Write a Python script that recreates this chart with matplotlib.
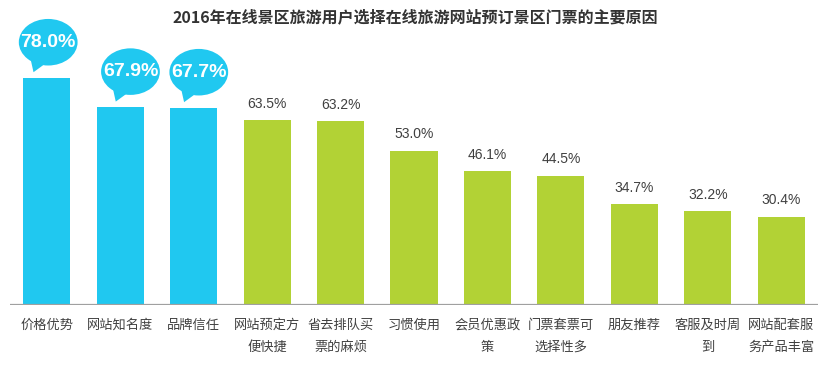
import matplotlib
matplotlib.use("Agg")
import matplotlib.pyplot as plt
from matplotlib.patches import Ellipse, Polygon

plt.rcParams["font.family"] = ["Noto Sans CJK SC", "DejaVu Sans"]

title = "2016年在线景区旅游用户选择在线旅游网站预订景区门票的主要原因"
categories = ["价格优势", "网站知名度", "品牌信任", "网站预定方\n便快捷", "省去排队买\n票的麻烦",
              "习惯使用", "会员优惠政\n策", "门票套票可\n选择性多", "朋友推荐", "客服及时周\n到",
              "网站配套服\n务产品丰富"]
values = [78.0, 67.9, 67.7, 63.5, 63.2, 53.0, 46.1, 44.5, 34.7, 32.2, 30.4]
n_top = 3  # highlighted with speech bubbles

BLUE = "#20c8f0"
GREEN = "#b2d235"
TEXT = "#404040"

fig = plt.figure(figsize=(8.28, 3.72), dpi=100)
ax = fig.add_axes([10 / 828, 1 - 305 / 372, 808 / 828, 305 / 372])

x = list(range(len(values)))
colors = [BLUE if i < n_top else GREEN for i in x]
ax.bar(x, values, width=0.64, color=colors, zorder=2)
ax.set_xlim(-0.5, len(values) - 0.5)
ax.set_ylim(0, 305 / 2.91)

ax.axhline(0, color="#a0a0a0", lw=1.6, zorder=3)
for s in ax.spines.values():
    s.set_visible(False)
ax.set_yticks([])
ax.set_xticks(x)
ax.set_xticklabels(categories, fontsize=9.5, color=TEXT, linespacing=1.9, va="top")
ax.tick_params(axis="x", length=0, pad=10)

# value labels on the green bars
for i in x[n_top:]:
    ax.text(i, values[i] + 3.2, f"{values[i]:.1f}%", ha="center", va="bottom",
            fontsize=10, color=TEXT, family="Liberation Sans")

# speech bubbles on the top three
offsets = [0.02, 0.14, 0.07]
for i in x[:n_top]:
    cx = i + offsets[i]
    cy = values[i] + 12.3
    w, h = 0.8, 16.0
    ax.add_patch(Ellipse((cx, cy), w, h, color=BLUE, zorder=4, lw=0))
    tail = [(cx - 0.24, cy - h * 0.36), (cx - 0.04, cy - h * 0.46), (cx - 0.2, values[i] + 2.0)]
    ax.add_patch(Polygon(tail, closed=True, color=BLUE, zorder=4, lw=0))
    ax.text(cx, cy, f"{values[i]:.1f}%", ha="center", va="center", fontsize=14,
            fontweight="bold", color="white", family="Liberation Sans", zorder=5)

fig.text(415 / 828, 1 - 17 / 372, title, ha="center", va="center", fontsize=11.5,
         fontweight="bold", color="#333333")

fig.savefig("out.png", dpi=100)
